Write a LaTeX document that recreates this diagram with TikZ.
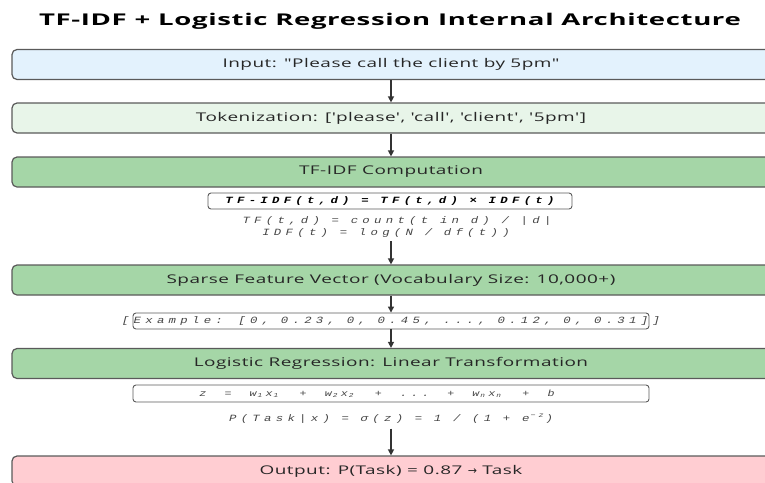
\documentclass[tikz,border=0pt]{standalone}
\usepackage{fontspec}
\setmainfont{Open Sans}
\newfontfamily\boxfont[Ligatures=TeXOff,FakeStretch=1.58,LetterSpace=4]{Open Sans}
\newfontfamily\headfont[Ligatures=TeXOff,FakeStretch=1.7,LetterSpace=4]{Open Sans}
\newfontfamily\codefont[Ligatures=TeXOff,FakeStretch=1.3,LetterSpace=45]{Liberation Mono}
\newfontfamily\symfont{DejaVu Sans}
\usetikzlibrary{arrows.meta}

\definecolor{inblue}{HTML}{E3F2FD}
\definecolor{tokgreen}{HTML}{E8F5E9}
\definecolor{stepgreen}{HTML}{A5D6A7}
\definecolor{outpink}{HTML}{FFCDD2}
\definecolor{edgegray}{HTML}{5A5A5A}
\definecolor{codegray}{HTML}{454545}

% small index set low or high in a cell of its own
\newcommand{\lo}[1]{\makebox[9pt][l]{\hspace{1pt}\raisebox{-0.3ex}{\fontsize{6}{6}\selectfont #1}}}
\newcommand{\hi}[1]{\makebox[8pt][l]{\hspace{1pt}\raisebox{0.7ex}{\fontsize{6.5}{6.5}\selectfont #1}}}
\newcommand{\wsp}{\ \hspace{7pt}}

\begin{document}
\begin{tikzpicture}[x=1pt,y=-1pt,
    stagebox/.style={draw=edgegray,line width=1.2pt,rounded corners=5pt,
      minimum width=758pt,minimum height=30pt,inner sep=0pt,text=black!85,
      font=\boxfont\fontsize{12}{14}\selectfont},
    mathbox/.style={draw=edgegray,line width=0.9pt,rounded corners=3pt,
      fill=white,inner sep=0pt},
    codetext/.style={inner sep=0pt,text=codegray,
      font=\codefont\itshape\fontsize{9.5}{11}\selectfont},
    flow/.style={draw=black!80,line width=1.3pt,-{Triangle[length=6pt,width=6pt]}}]
  \useasboundingbox (0,0) rectangle (765,482);
  \clip (0,0) rectangle (765,482);

  % title
  \node[font=\headfont\bfseries\fontsize{16.2}{18}\selectfont] (title) at (390,21)
    {TF-IDF + Logistic Regression Internal Architecture};

  % pipeline stages
  \node[stagebox,fill=inblue] (input) at (391,64.5) {Input: "Please call the client by 5pm"};
  \node[stagebox,fill=tokgreen] (tok) at (391,118) {Tokenization: ['please', 'call', 'client', '5pm']};
  \node[stagebox,fill=stepgreen] (tfidf) at (391,172) {TF-IDF Computation};
  \node[stagebox,fill=stepgreen] (sparse) at (391,280) {Sparse Feature Vector (Vocabulary Size: 10,000+)};
  \node[stagebox,fill=stepgreen] (logit) at (391,363.5) {Logistic Regression: Linear Transformation};
  \node[stagebox,fill=outpink] (output) at (391,471) {Output: P(Task) = 0.87 {\symfont\fontsize{11}{13}\selectfont →} Task};

  % formulas
  \node[mathbox,minimum width=364pt,minimum height=16pt,text=black,
    font=\codefont\bfseries\itshape\fontsize{9.5}{11}\selectfont] (fmain) at (390,201)
    {TF-IDF(t,d) = TF(t,d) × IDF(t)};
  \node[codetext] (tfline) at (397,221) {TF(t,d) = count(t in d) / |d|};
  \node[codetext] (idfline) at (386,233.5) {IDF(t) = log(N / df(t))};

  \node[mathbox,minimum width=516pt,minimum height=16pt] (exbox) at (391,321) {};
  \node[codetext] (example) at (exbox) {[Example: [0, 0.23, 0, 0.45, ..., 0.12, 0, 0.31]]};

  \node[mathbox,minimum width=516pt,minimum height=17pt] (zbox) at (391,393.5) {};
  \node[codetext,font=\codefont\itshape\fontsize{9}{10}\selectfont] (zline) at (377,394)
    {z\wsp=\wsp w\lo{1}x\lo{1}\wsp+\wsp w\lo{2}x\lo{2}\wsp+\wsp...\wsp+\wsp w\lo{n}x\lo{n}\wsp+\wsp b};
  \node[codetext] (pline) at (391,419) {P(Task|x) = σ(z) = 1 / (1 + e\hi{−}\hi{z})};

  % arrows
  \draw[flow] (input) -- (tok);
  \draw[flow] (tok) -- (tfidf);
  \draw[flow] ([xshift=5pt,yshift=-3pt]idfline.south) -- (sparse);
  \draw[flow] (sparse) -- (exbox);
  \draw[flow] (exbox) -- (logit);
  \draw[flow] ([yshift=-5pt]pline.south) -- (output);
\end{tikzpicture}
\end{document}
